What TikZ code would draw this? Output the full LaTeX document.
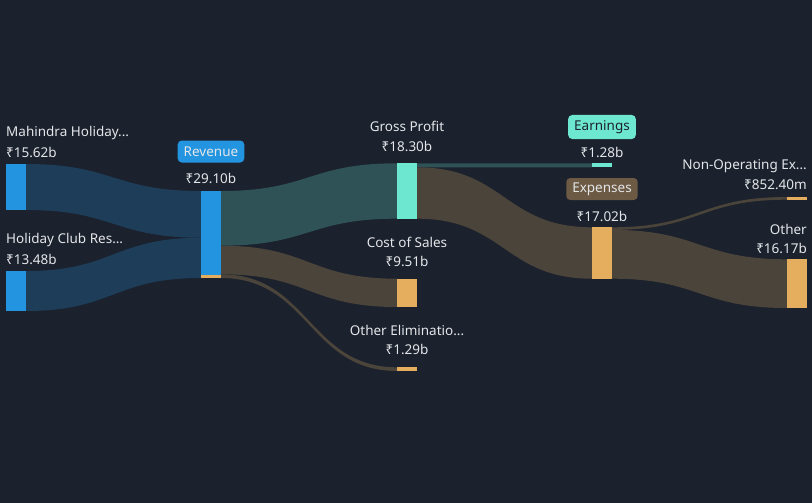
\documentclass[tikz,border=0pt]{standalone}
\usepackage{fontspec}
\setmainfont{Noto Sans}
\definecolor{bg}{RGB}{27,33,45}
\definecolor{txt}{RGB}{228,230,233}
\definecolor{barblue}{RGB}{35,148,223}
\definecolor{flowblue}{RGB}{29,61,89}
\definecolor{barteal}{RGB}{110,231,208}
\definecolor{flowteal}{RGB}{46,82,85}
\definecolor{barorange}{RGB}{228,174,94}
\definecolor{flowbrown}{RGB}{75,68,58}
\definecolor{tagbrown}{RGB}{108,90,68}
% band between two bars: x1, top1, bottom1, x2, top2, bottom2, colour
\newcommand{\band}[7]{%
  \fill[#7] (#1,#2) .. controls ({(#1+#4)/2},#2) and ({(#1+#4)/2},#5) .. (#4,#5)
    -- (#4,#6) .. controls ({(#1+#4)/2},#6) and ({(#1+#4)/2},#3) .. (#1,#3) -- cycle;}
\tikzset{
  lbl/.style={text=txt, font=\fontsize{13.5}{15}\selectfont, inner sep=0pt},
  tag/.style={lbl, rounded corners=4pt, fill=#1, minimum height=22pt, inner xsep=6pt}
}
\begin{document}
\begin{tikzpicture}[x=1pt,y=-1pt]
	\fill[bg] (0,0) rectangle (812,503);
	\useasboundingbox (0,0) rectangle (812,503);
	% flows
	\band{26}{164}{210}{201}{191}{237.7}{flowblue}
	\band{26}{271}{311}{201}{237.7}{278}{flowblue}
	\band{221}{191}{245.7}{397}{163.3}{218.7}{flowteal}
	\band{221}{245.7}{274.3}{397}{278.7}{307}{flowbrown}
	\band{221}{274.3}{278}{397}{367.3}{371}{flowbrown}
	\band{417}{163.3}{167.3}{592}{163.3}{167.3}{flowteal}
	\band{417}{167.3}{218.7}{592}{227.3}{278.7}{flowbrown}
	\band{612}{227.3}{229.9}{787}{197}{199.7}{flowbrown}
	\band{612}{229.9}{278.7}{787}{259.3}{308}{flowbrown}
	% bars
	\fill[barblue] (6,164) rectangle (26,210);
	\fill[barblue] (6,271) rectangle (26,311);
	\fill[barblue] (201,191) rectangle (221,274.5);
	\fill[barorange] (201,274.5) rectangle (221,278);
	\fill[barteal] (397,163.3) rectangle (417,218.7);
	\fill[barorange] (397,278.7) rectangle (417,307);
	\fill[barorange] (397,367.3) rectangle (417,371);
	\fill[barteal] (592,163.3) rectangle (612,167.3);
	\fill[barorange] (592,227.3) rectangle (612,278.7);
	\fill[barorange] (787,197) rectangle (807,199.7);
	\fill[barorange] (787,259.3) rectangle (807,308);
	% labels
	\node[lbl, anchor=west] (mhl) at (6,133.3) {Mahindra Holiday...};
	\node[lbl, anchor=west] (mhv) at (6,152.7) {₹15.62b};
	\node[lbl, anchor=west] (hcl) at (6,240) {Holiday Club Res...};
	\node[lbl, anchor=west] (hcv) at (6,259) {₹13.48b};
	\node[tag=barblue] (revl) at (211,151.5) {Revenue};
	\node[lbl] (revv) at (211,178.5) {₹29.10b};
	\node[lbl] (gpl) at (407,126.7) {Gross Profit};
	\node[lbl] (gpv) at (407,146) {₹18.30b};
	\node[lbl] (csl) at (407,242.3) {Cost of Sales};
	\node[lbl] (csv) at (407,261.7) {₹9.51b};
	\node[lbl] (oel) at (407,330) {Other Eliminatio...};
	\node[lbl] (oev) at (407,349.3) {₹1.29b};
	\node[tag=barteal, text=bg, minimum height=24pt] (earnl) at (602,127) {Earnings};
	\node[lbl] (earnv) at (602,152.7) {₹1.28b};
	\node[tag=tagbrown] (expl) at (602,189) {Expenses};
	\node[lbl] (expv) at (602,216) {₹17.02b};
	\node[lbl, anchor=east] (nol) at (807,166) {Non-Operating Ex...};
	\node[lbl, anchor=east] (nov) at (807,185) {₹852.40m};
	\node[lbl, anchor=east] (othl) at (807,229.3) {Other};
	\node[lbl, anchor=east] (othv) at (807,248.3) {₹16.17b};
\end{tikzpicture}
\end{document}
